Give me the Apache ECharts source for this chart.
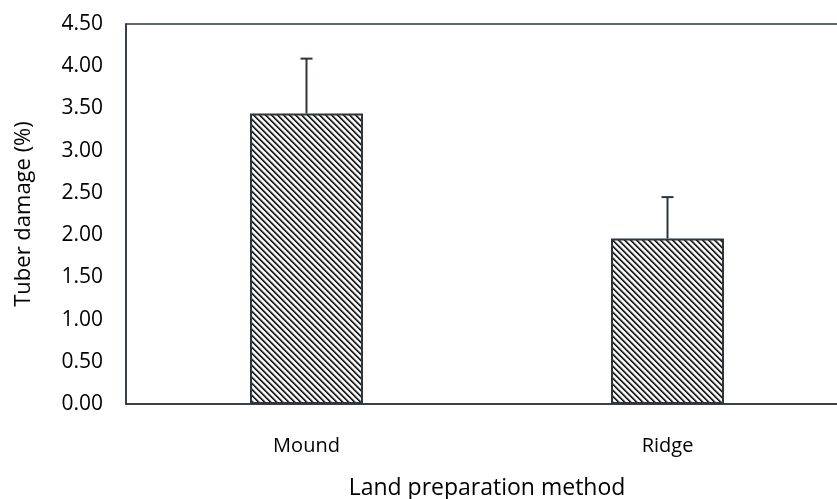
<!DOCTYPE html>
<html>
<head>
<meta charset="utf-8">
<script src="https://cdn.jsdelivr.net/npm/echarts@6/dist/echarts.min.js"></script>
<style>
html,body{margin:0;padding:0;background:#fff;}
#chart{width:837px;height:499px;}
</style>
</head>
<body>
<div id="chart"></div>
<script>
const categories = ['Mound', 'Ridge'];
const damageValues = [3.44, 1.96];
const errorValues = [0.65, 0.49];
const yTicks = ['0.00','0.50','1.00','1.50','2.00','2.50','3.00','3.50','4.00','4.50'];

const dark = '#2d3540';

function makeHatch() {
  const n = 6;
  const c = document.createElement('canvas');
  c.width = n; c.height = n;
  const ctx = c.getContext('2d');
  const img = ctx.createImageData(n, n);
  const shade = [20, 60, 170, 255, 255, 200];
  for (let y = 0; y < n; y++) {
    for (let x = 0; x < n; x++) {
      const i = (y * n + x) * 4;
      const d = ((x - y) % n + n) % n;
      const v = shade[d];
      img.data[i] = v; img.data[i+1] = v; img.data[i+2] = v; img.data[i+3] = 255;
    }
  }
  ctx.putImageData(img, 0, 0);
  return c;
}

const chart = echarts.init(document.getElementById('chart'), null, {renderer: 'canvas'});
const font = 'Open Sans';

chart.setOption({
  animation: false,
  backgroundColor: '#ffffff',
  grid: {
    left: 126, top: 24, width: 722, height: 380,
    outerBoundsMode: 'none', containLabel: false,
    show: true, borderColor: dark, borderWidth: 1.5, backgroundColor: 'transparent'
  },
  xAxis: {
    type: 'category',
    data: categories,
    name: 'Land preparation method',
    nameLocation: 'middle',
    nameGap: 73,
    nameTextStyle: {fontFamily: font, fontSize: 23, color: '#000'},
    axisLine: {show: true, lineStyle: {color: dark, width: 1.5}},
    axisTick: {show: false},
    axisLabel: {fontFamily: font, fontSize: 20, color: '#000', margin: 32},
    splitLine: {show: false}
  },
  yAxis: {
    type: 'value',
    min: 0, max: 4.5, interval: 0.5,
    name: 'Tuber damage (%)',
    nameLocation: 'middle',
    nameGap: 91,
    nameRotate: 90,
    nameTextStyle: {fontFamily: font, fontSize: 22, color: '#000'},
    axisLine: {show: true, lineStyle: {color: dark, width: 1.5}},
    axisTick: {show: false},
    axisLabel: {
      fontFamily: font, fontSize: 21, color: '#000', margin: 23,
      formatter: function (v) { return yTicks[Math.round(v / 0.5)]; }
    },
    splitLine: {show: false}
  },
  series: [
    {
      type: 'bar',
      data: damageValues,
      barWidth: 113,
      itemStyle: {
        color: {image: makeHatch(), repeat: 'repeat'},
        borderColor: dark,
        borderWidth: 2
      },
      z: 2
    },
    {
      type: 'custom',
      data: damageValues.map((v, i) => [i, v, v + errorValues[i]]),
      renderItem: function (params, api) {
        const x = api.coord([api.value(0), api.value(1)]);
        const top = api.coord([api.value(0), api.value(2)]);
        const half = 6;
        return {
          type: 'group',
          children: [
            {type: 'line', shape: {x1: x[0], y1: x[1], x2: top[0], y2: top[1]},
             style: {stroke: dark, lineWidth: 2}},
            {type: 'line', shape: {x1: top[0] - half, y1: top[1], x2: top[0] + half, y2: top[1]},
             style: {stroke: dark, lineWidth: 2}}
          ]
        };
      },
      z: 3
    }
  ]
});
</script>
</body>
</html>
